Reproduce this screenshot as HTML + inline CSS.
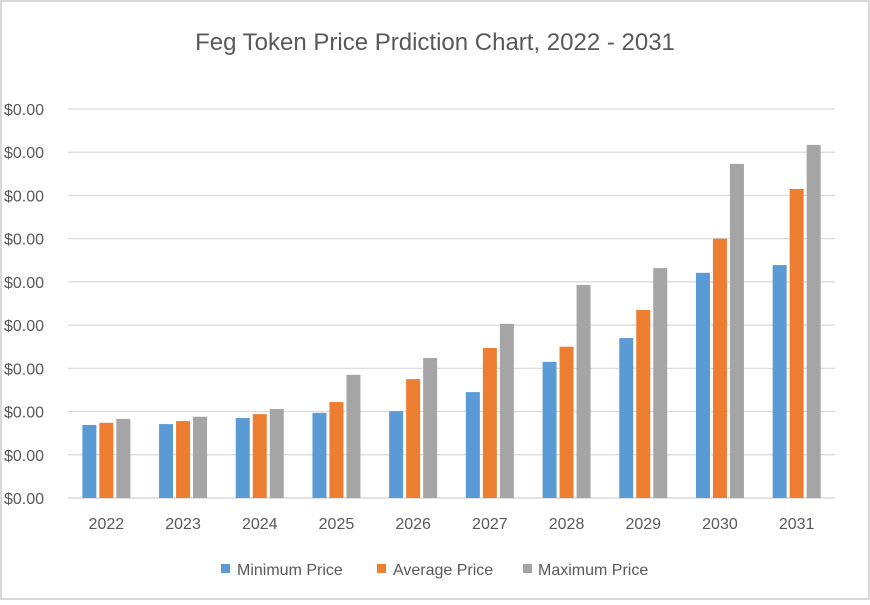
<!DOCTYPE html>
<html><head><meta charset="utf-8"><style>
body{margin:0;background:#fff}
svg text{font-family:"Liberation Sans",sans-serif}
</style></head><body>
<svg id="chart" width="870" height="600" xmlns="http://www.w3.org/2000/svg">
<rect x="1" y="1" width="868" height="598" fill="#fff" stroke="#d9d9d9" stroke-width="2"/>
<text x="435" y="50" text-anchor="middle" font-size="24" fill="#595959">Feg Token Price Prdiction Chart, 2022 - 2031</text>
<g id="grid"></g><g id="bars"></g><g id="labels"></g>
<g>
<rect x="221" y="564" width="9" height="9" fill="#5b9bd5"/>
<text x="237" y="575" font-size="16" fill="#595959">Minimum Price</text>
<rect x="377" y="564" width="9" height="9" fill="#ed7d31"/>
<text x="393" y="575" font-size="16" fill="#595959">Average Price</text>
<rect x="523" y="564" width="9" height="9" fill="#a5a5a5"/>
<text x="538" y="575" font-size="16" fill="#595959">Maximum Price</text>
</g>
</svg>
<script>
const categories=["2022","2023","2024","2025","2026","2027","2028","2029","2030","2031"];
const minPrice=[1.69,1.71,1.85,1.97,2.01,2.45,3.15,3.70,5.21,5.39];
const avgPrice=[1.74,1.78,1.94,2.22,2.75,3.47,3.50,4.35,6.00,7.15];
const maxPrice=[1.83,1.88,2.06,2.85,3.24,4.03,4.93,5.32,7.73,8.17];
const tickValues=[0,1,2,3,4,5,6,7,8,9];
const tickLabels=["$0.00","$0.00","$0.00","$0.00","$0.00","$0.00","$0.00","$0.00","$0.00","$0.00"];
const NS="http://www.w3.org/2000/svg";
const x0=68,x1=835,yBase=498,yTop=109,vMax=9;
const yScale=v=>yBase-(v/vMax)*(yBase-yTop);
const bandW=(x1-x0)/categories.length;
const xBand=i=>x0+bandW*(i+0.5);
function mk(tag,attrs,parent){const e=document.createElementNS(NS,tag);for(const k in attrs)e.setAttribute(k,attrs[k]);parent.appendChild(e);return e;}
const grid=document.getElementById('grid'),bars=document.getElementById('bars'),labels=document.getElementById('labels');
tickValues.forEach((v,i)=>{
  const y=yScale(v);
  const l=mk('line',{x1:x0,x2:x1,y1:y,y2:y,stroke:'#d9d9d9','stroke-width':i===0?1.5:1.2},grid);
  
  
  const t=mk('text',{x:4,y:y+6,'font-size':16,fill:'#595959'},labels);
  t.textContent=tickLabels[i];
  
  
});
const series=[[minPrice,'#5b9bd5','min'],[avgPrice,'#ed7d31','avg'],[maxPrice,'#a5a5a5','max']];
const bw=14,gap=3;
categories.forEach((c,i)=>{
  const cx=xBand(i);
  series.forEach((s,j)=>{
    const x=cx-bw*1.5-gap+j*(bw+gap);
    const y=yScale(s[0][i]);
    const r=mk('rect',{x:x,y:y,width:bw,height:yBase-y,fill:s[1]},bars);
    
    
  });
  const t=mk('text',{x:cx,y:529,'text-anchor':'middle','font-size':16,fill:'#595959'},labels);
  t.textContent=c;
  
  
});
</script>
</body></html>
